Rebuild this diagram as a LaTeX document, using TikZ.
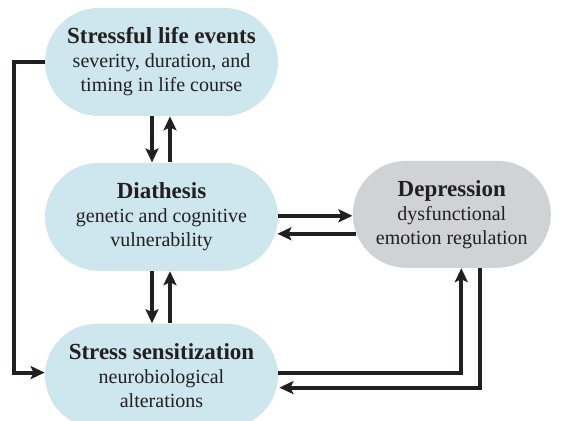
\documentclass[tikz,border=0pt]{standalone}
\usepackage{fontspec}
\setmainfont{Liberation Serif}
\usetikzlibrary{arrows.meta,positioning,shapes.misc}
\definecolor{boxblue}{RGB}{206,230,237}
\definecolor{boxgray}{RGB}{209,210,212}
\definecolor{ink}{RGB}{35,31,32}
\newcommand{\heading}[1]{{\fontsize{11.5}{12}\selectfont\bfseries #1}}

\begin{document}
\begin{tikzpicture}[
  font=\fontsize{10}{12}\selectfont,
  text=ink,
  stage/.style={rounded rectangle,align=center,fill=boxblue,
                minimum width=120.5pt,minimum height=54pt,inner sep=2pt},
  outcome/.style={stage,fill=boxgray,minimum width=103pt,minimum height=53.5pt},
  arrow/.style={-{Stealth[length=7pt,width=6.5pt,inset=1.5pt]},line width=2pt,draw=ink}
]
\useasboundingbox (0,0) rectangle (286pt,-210.5pt);

\node[stage] (sle) at (80.75pt,-31pt)
 {\heading{Stressful life events}\\severity, duration, and\\timing in life course};
\node[stage,below=23pt of sle] (dia)
 {\heading{Diathesis}\\genetic and cognitive\\vulnerability};
\node[stage,minimum height=52pt,below=26pt of dia] (ss)
 {\heading{Stress sensitization}\\neurobiological\\alterations};
\node[outcome,right=37pt of dia,yshift=1.25pt] (dep)
 {\heading{Depression}\\dysfunctional\\emotion regulation};

% vertical pairs
\draw[arrow] ([xshift=-4.75pt]sle.south) -- ([xshift=-4.75pt]sle.south |- dia.north);
\draw[arrow] ([xshift=4.25pt]dia.north) -- ([xshift=4.25pt]dia.north |- sle.south);
\draw[arrow] ([xshift=-4.75pt]dia.south) -- ([xshift=-4.75pt]dia.south |- ss.north);
\draw[arrow] ([xshift=4.25pt]ss.north) -- ([xshift=4.25pt]ss.north |- dia.south);

% diathesis <-> depression
\draw[arrow] ([yshift=0.5pt]dia.east) -- ([yshift=0.5pt]dia.east -| dep.west);
\draw[arrow] ([xshift=1.75pt,yshift=-8.5pt]dia.east -| dep.west) -- ([xshift=-0.5pt,yshift=-8.5pt]dia.east);

% sensitization <-> depression
\draw[arrow] ([yshift=1.5pt]ss.east) -| ([xshift=4.75pt]dep.south);
\draw[arrow] ([xshift=14.25pt]dep.south) |- ([xshift=0.5pt,yshift=-6pt]ss.east);

% life events -> sensitization
\draw[arrow] (sle.west) -- ++(-15.25pt,0) |- ([yshift=1.5pt]ss.west);
\end{tikzpicture}
\end{document}
